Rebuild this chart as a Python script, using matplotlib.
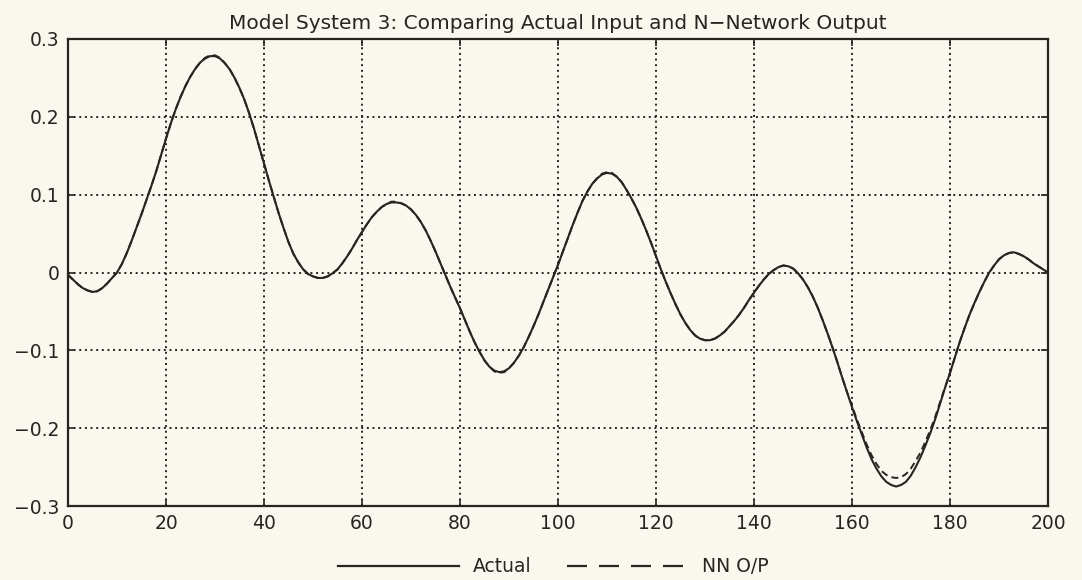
import matplotlib
matplotlib.use("Agg")
import matplotlib.pyplot as plt
from matplotlib.lines import Line2D

# sample index
x = list(range(0, 201))

actual = [
    -0.003, -0.009, -0.015, -0.020, -0.023, -0.025, -0.024, -0.020, -0.014, -0.007,
    0.000, 0.011, 0.025, 0.041, 0.058, 0.075, 0.093, 0.111, 0.130, 0.151,
    0.172, 0.192, 0.210, 0.226, 0.240, 0.252, 0.262, 0.270, 0.275, 0.278,
    0.278, 0.275, 0.269, 0.261, 0.250, 0.237, 0.222, 0.204, 0.184, 0.162,
    0.140, 0.118, 0.097, 0.076, 0.057, 0.039, 0.024, 0.013, 0.004, -0.002,
    -0.005, -0.007, -0.007, -0.005, -0.001, 0.004, 0.012, 0.021, 0.031, 0.042,
    0.052, 0.062, 0.071, 0.078, 0.084, 0.088, 0.090, 0.090, 0.089, 0.086,
    0.081, 0.074, 0.065, 0.054, 0.041, 0.027, 0.012, -0.003, -0.018, -0.032,
    -0.046, -0.061, -0.076, -0.090, -0.102, -0.113, -0.121, -0.126, -0.128, -0.127,
    -0.123, -0.116, -0.107, -0.096, -0.083, -0.069, -0.054, -0.038, -0.022, -0.006,
    0.010, 0.027, 0.044, 0.061, 0.077, 0.092, 0.104, 0.114, 0.121, 0.126,
    0.128, 0.127, 0.123, 0.116, 0.106, 0.095, 0.083, 0.069, 0.054, 0.038,
    0.021, 0.004, -0.012, -0.027, -0.041, -0.054, -0.065, -0.074, -0.081, -0.085,
    -0.087, -0.087, -0.085, -0.081, -0.076, -0.069, -0.062, -0.054, -0.045, -0.035,
    -0.026, -0.017, -0.009, -0.002, 0.003, 0.007, 0.009, 0.008, 0.005, -0.001,
    -0.009, -0.019, -0.031, -0.045, -0.061, -0.078, -0.096, -0.115, -0.135, -0.154,
    -0.173, -0.191, -0.208, -0.225, -0.240, -0.252, -0.262, -0.269, -0.273, -0.275,
    -0.273, -0.269, -0.261, -0.250, -0.237, -0.222, -0.206, -0.188, -0.168, -0.148,
    -0.129, -0.109, -0.089, -0.071, -0.054, -0.039, -0.025, -0.012, 0.000, 0.009,
    0.017, 0.022, 0.025, 0.026, 0.024, 0.021, 0.017, 0.012, 0.008, 0.004,
    0.000,
]

nn_output = [
    -0.003, -0.009, -0.015, -0.020, -0.023, -0.025, -0.024, -0.020, -0.014, -0.007,
    0.000, 0.011, 0.025, 0.041, 0.058, 0.075, 0.093, 0.111, 0.130, 0.151,
    0.172, 0.192, 0.210, 0.226, 0.240, 0.252, 0.262, 0.270, 0.276, 0.279,
    0.279, 0.276, 0.269, 0.261, 0.250, 0.237, 0.222, 0.204, 0.184, 0.162,
    0.140, 0.118, 0.097, 0.076, 0.057, 0.039, 0.024, 0.013, 0.004, -0.002,
    -0.005, -0.007, -0.007, -0.005, -0.001, 0.004, 0.012, 0.021, 0.031, 0.042,
    0.052, 0.062, 0.071, 0.078, 0.084, 0.088, 0.091, 0.091, 0.089, 0.086,
    0.081, 0.074, 0.065, 0.054, 0.041, 0.027, 0.012, -0.003, -0.018, -0.032,
    -0.046, -0.061, -0.076, -0.090, -0.102, -0.113, -0.121, -0.127, -0.129, -0.128,
    -0.123, -0.116, -0.107, -0.096, -0.083, -0.069, -0.054, -0.038, -0.022, -0.006,
    0.010, 0.027, 0.044, 0.061, 0.077, 0.092, 0.104, 0.114, 0.121, 0.127,
    0.129, 0.128, 0.123, 0.116, 0.106, 0.095, 0.083, 0.069, 0.054, 0.038,
    0.021, 0.004, -0.012, -0.027, -0.041, -0.054, -0.065, -0.074, -0.081, -0.085,
    -0.087, -0.087, -0.085, -0.081, -0.076, -0.069, -0.062, -0.054, -0.045, -0.035,
    -0.026, -0.017, -0.009, -0.002, 0.003, 0.007, 0.009, 0.008, 0.005, -0.001,
    -0.009, -0.019, -0.031, -0.045, -0.061, -0.078, -0.096, -0.115, -0.135, -0.154,
    -0.171, -0.189, -0.205, -0.221, -0.235, -0.246, -0.255, -0.260, -0.263, -0.264,
    -0.263, -0.259, -0.252, -0.242, -0.231, -0.217, -0.202, -0.185, -0.166, -0.147,
    -0.129, -0.109, -0.089, -0.071, -0.054, -0.039, -0.025, -0.012, 0.000, 0.009,
    0.017, 0.022, 0.025, 0.026, 0.024, 0.021, 0.017, 0.012, 0.008, 0.004,
    0.000,
]

x_ticks = list(range(0, 201, 20))
y_ticks = [-0.3, -0.2, -0.1, 0.0, 0.1, 0.2, 0.3]
y_tick_labels = ["\u22120.3", "\u22120.2", "\u22120.1", "0", "0.1", "0.2", "0.3"]

title = "Model System 3: Comparing Actual Input and N\u2212Network Output"

ink = "#2b2222"
paper = "#f8f8ee"

plt.rcParams["font.family"] = ["DejaVu Sans"]

fig = plt.figure(figsize=(10.82, 5.80), dpi=100, facecolor=paper)
ax = fig.add_axes([68 / 1082, 1 - 506 / 580, 980 / 1082, 467 / 580])
ax.set_facecolor(paper)

ax.plot(x, actual, color=ink, lw=1.5, solid_capstyle="round",
        solid_joinstyle="round")
ax.plot(x, nn_output, color=ink, lw=1.4, dashes=(3.6, 2.2))

ax.set_xlim(0, 200)
ax.set_ylim(-0.3, 0.3)
ax.set_xticks(x_ticks)
ax.set_xticklabels([str(t) for t in x_ticks])
ax.set_yticks(y_ticks)
ax.set_yticklabels(y_tick_labels)

ax.grid(True, color=ink, linestyle=(0, (1.0, 1.9)), linewidth=1.4)
ax.tick_params(direction="in", length=5, width=1.2, colors=ink,
               labelsize=13.5, top=True, right=True, pad=6)
for lbl in ax.get_xticklabels() + ax.get_yticklabels():
    lbl.set_color(ink)
for s in ax.spines.values():
    s.set_color(ink)
    s.set_linewidth(1.6)

ax.set_title(title, fontsize=14.5, color=ink, pad=7)

handles = [
    Line2D([], [], color=ink, lw=1.6),
    Line2D([], [], color=ink, lw=1.6, dashes=(9.0, 5.4)),
]
fig.legend(handles, ["Actual", "NN O/P"], loc="center",
           bbox_to_anchor=(553 / 1082, 1 - 567 / 580), ncol=2,
           frameon=False, fontsize=13.5, handlelength=6.5, handletextpad=0.7,
           columnspacing=1.9, labelcolor=ink, borderpad=0.1)

fig.savefig("out.png", dpi=100, facecolor=paper)
